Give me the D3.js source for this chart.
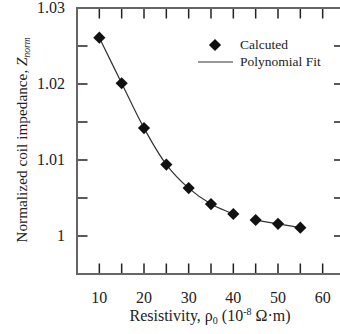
<!DOCTYPE html>
<html><head><meta charset="utf-8">
<script src="https://cdn.jsdelivr.net/npm/d3@7"></script>
<style>body{margin:0;background:#fff}svg{display:block}</style>
</head><body><svg id="c" width="340" height="334" font-family="'Liberation Serif', 'Times New Roman', Times, 'DejaVu Serif', serif"></svg>
<script>
const resistivity = [10,15,20,25,30,35,40,45,50,55];
const impedance = [1.0261,1.0201,1.0142,1.0094,1.0063,1.0042,1.0029,1.0021,1.0016,1.0011];
const xTicks = [10,20,30,40,50,60];
const yTicks = [1,1.01,1.02,1.03];
const yTickLabels = ["1","1.01","1.02","1.03"];
const legendLabels = ["Calcuted","Polynomial Fit"];

const svg = d3.select("#c");
const x = d3.scaleLinear().domain([5,65]).range([77,345]);
const y = d3.scaleLinear().domain([0.995,1.03]).range([274,8]);
const pts = resistivity.map((r,i)=>({x:r,y:impedance[i]}));

const frameColor="#666";
const textColor="#222";
// ticks
const xMinor = d3.range(10,65,5);
const yMinor = d3.range(0,7).map(i=>1+i*0.005).filter(v=>v<1.0301);
const g = svg.append("g").attr("stroke","#222").attr("stroke-width",1.5);
xMinor.forEach(v=>{
  g.append("line").attr("x1",x(v)).attr("x2",x(v)).attr("y1",274).attr("y2",263.5);
  g.append("line").attr("x1",x(v)).attr("x2",x(v)).attr("y1",8).attr("y2",18.5);
});
yMinor.forEach(v=>{
  g.append("line").attr("x1",77).attr("x2",87.5).attr("y1",y(v)).attr("y2",y(v));
  g.append("line").attr("x1",345).attr("x2",334).attr("y1",y(v)).attr("y2",y(v));
});
// frame
svg.append("rect").attr("x",77).attr("y",8).attr("width",268).attr("height",266)
  .attr("fill","none").attr("stroke",frameColor).attr("stroke-width",2);

// tick labels
xTicks.forEach(v=>svg.append("text").attr("x",x(v)).attr("y",303).attr("text-anchor","middle").attr("font-size",16).attr("fill",textColor).text(v));
yTicks.forEach((v,i)=>svg.append("text").attr("x",65).attr("y",y(v)+5).attr("text-anchor","end").attr("font-size",16).attr("fill",textColor).text(yTickLabels[i]));

// axis titles
const xt = svg.append("text").attr("x",210).attr("y",321).attr("text-anchor","middle").attr("font-size",16).attr("fill",textColor);
xt.append("tspan").text("Resistivity, ρ");
xt.append("tspan").attr("font-size",10).attr("dy",3).text("0");
xt.append("tspan").attr("dy",-3).text(" (10");
xt.append("tspan").attr("font-size",10).attr("dy",-6).text("-8");
xt.append("tspan").attr("dy",6).text(" Ω·m)");

const yt = svg.append("text").attr("transform","translate(27,140) rotate(-90)").attr("text-anchor","middle").attr("font-size",15.3).attr("fill",textColor);
yt.append("tspan").text("Normalized coil impedance, ");
yt.append("tspan").attr("font-style","italic").text("Z");
yt.append("tspan").attr("font-style","italic").attr("font-size",9.5).attr("dy",3).text("norm");

// fit curve (two segments, as in reference)
const line = d3.line().x(d=>x(d.x)).y(d=>y(d.y)).curve(d3.curveCatmullRom.alpha(0.5));
[pts.slice(0,7), pts.slice(7)].forEach(seg=>
  svg.append("path").attr("d",line(seg)).attr("fill","none").attr("stroke","#333").attr("stroke-width",1.2));

// markers
const diamond = d3.symbol(d3.symbolSquare,74)();
svg.selectAll(".pt").data(pts).join("path").attr("class","pt").attr("d",diamond)
  .attr("transform",d=>`translate(${x(d.x)},${y(d.y)}) rotate(45)`).attr("fill","#111");

// legend
svg.append("path").attr("d",diamond).attr("transform","translate(215,45) rotate(45)").attr("fill","#111");
svg.append("line").attr("x1",198).attr("x2",233).attr("y1",62).attr("y2",62).attr("stroke","#333").attr("stroke-width",1.2);
svg.append("text").attr("x",240).attr("y",49).attr("font-size",13.5).attr("fill",textColor).text(legendLabels[0]);
svg.append("text").attr("x",240).attr("y",65.5).attr("font-size",13.5).attr("fill",textColor).text(legendLabels[1]);
</script></body></html>
